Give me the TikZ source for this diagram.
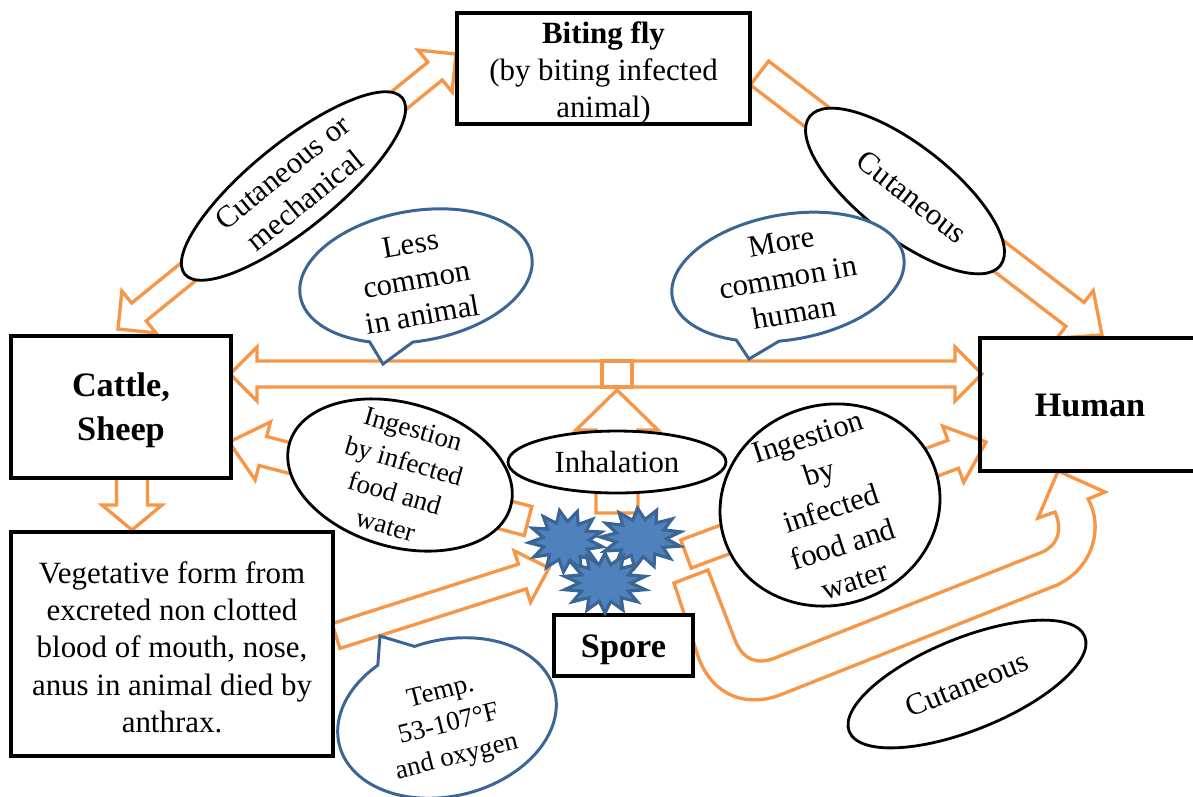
\documentclass[tikz,border=0pt]{standalone}
\usepackage{fontspec}
\setmainfont{Liberation Serif}
\usetikzlibrary{positioning,calc,backgrounds,shapes.geometric,shapes.callouts}
\definecolor{arrow_orange}{HTML}{F79646}
\definecolor{spore_blue}{HTML}{4F81BD}
\definecolor{bubble_blue}{HTML}{3A6595}
\newcommand{\stack}[2][.35em]{\smash{\raisebox{-#1}{\makebox[0pt]{\begin{tabular}{@{}c@{}}#2\end{tabular}}}}}
\tikzstyle{box} = [rectangle, draw=black, line width=2.1pt, fill=white, inner sep=0pt,
font=\fontsize{17.6}{21.2}\selectfont]
\tikzstyle{box_bold} = [box, font=\fontsize{19.5}{25}\bfseries\selectfont]
\tikzstyle{oval} = [ellipse, draw=black, line width=1.6pt, fill=white, inner sep=0pt,
font=\fontsize{17.5}{20.5}\selectfont]
\tikzstyle{bubble} = [ellipse callout, draw=bubble_blue, line width=1.7pt, fill=white, inner sep=0pt,
callout pointer arc=22, font=\fontsize{17.5}{20.5}\selectfont]
\tikzstyle{spore_star} = [star, star point ratio=1.6, draw=bubble_blue, line width=1.8pt, fill=spore_blue, inner sep=0pt]
\tikzstyle{arrow_line} = [draw=arrow_orange, line width=1.9pt, fill=white, line join=miter]
\tikzset{
block_arrow/.style n args={3}{arrow_line, to path={
($(\tikztostart)!#1!90:(\tikztotarget)$) --
($($(\tikztotarget)!#3!(\tikztostart)$)!#1!90:(\tikztotarget)$) --
($($(\tikztotarget)!#3!(\tikztostart)$)!#2!90:(\tikztotarget)$) --
(\tikztotarget) --
($($(\tikztotarget)!#3!(\tikztostart)$)!#2!-90:(\tikztotarget)$) --
($($(\tikztotarget)!#3!(\tikztostart)$)!#1!-90:(\tikztotarget)$) --
($(\tikztostart)!#1!-90:(\tikztotarget)$) -- cycle}},
block_arrow_double/.style n args={3}{arrow_line, to path={
(\tikztostart) --
($($(\tikztostart)!#3!(\tikztotarget)$)!#2!-90:(\tikztotarget)$) --
($($(\tikztostart)!#3!(\tikztotarget)$)!#1!-90:(\tikztotarget)$) --
($($(\tikztotarget)!#3!(\tikztostart)$)!#1!-90:(\tikztotarget)$) --
($($(\tikztotarget)!#3!(\tikztostart)$)!#2!-90:(\tikztotarget)$) --
(\tikztotarget) --
($($(\tikztotarget)!#3!(\tikztostart)$)!#2!90:(\tikztotarget)$) --
($($(\tikztotarget)!#3!(\tikztostart)$)!#1!90:(\tikztotarget)$) --
($($(\tikztostart)!#3!(\tikztotarget)$)!#1!90:(\tikztotarget)$) --
($($(\tikztostart)!#3!(\tikztotarget)$)!#2!90:(\tikztotarget)$) -- cycle}}
}
\begin{document}
\begin{tikzpicture}[x=0.02cm,y=-0.02cm]
\useasboundingbox (0,0) rectangle (1193,796);
\clip (0,0) rectangle (1193,796);

% Main boxes
\node (Biting_Fly) [box, minimum width=5.86cm, minimum height=2.22cm] at (603.5,68.5) {\stack[.4em]{\textbf{Biting fly}\\(by biting infected\\animal)}};
\node (Cattle_Sheep) [box_bold, minimum width=4.4cm, minimum height=2.84cm] at (121,407) {\stack{Cattle,\\Sheep}};
\node (Human) [box_bold, fill=none, minimum width=4.4cm, minimum height=2.66cm] at (1090,404.5) {\stack{Human}};
\node (Vegetative_Form) [box, minimum width=6.44cm, minimum height=4.48cm] at (172,644) {\stack[.45em]{Vegetative form from\\excreted non clotted\\blood of mouth, nose,\\anus in animal died by\\anthrax.}};
\node (Spore) [box_bold, minimum width=2.78cm, minimum height=1.22cm] at (623.5,645.5) {\stack{Spore}};

% Spores
\node (Star_A) [spore_star, star points=13, minimum size=1.24cm, xscale=1.2, rotate=10] at (566,541) {};
\node (Star_B) [spore_star, star points=13, minimum size=1.2cm, xscale=1.35, rotate=5] at (641,538) {};
\node (Star_C) [spore_star, star points=14, minimum size=1.2cm, xscale=1.38] at (605,583) {};

% Route labels
\node (Cutaneous_Mechanical) [oval, minimum width=5.6cm, minimum height=1.72cm, rotate=39] at (293.5,186) {\stack{Cutaneous or\\mechanical}};
\node (Cutaneous_Fly) [oval, minimum width=4.84cm, minimum height=1.84cm, rotate=-38] at (905,191) {\stack{\hspace*{.6em}Cutaneous}};
\node (Ingestion_Cattle) [oval, minimum width=4.6cm, minimum height=2.88cm, rotate=-16, font=\fontsize{15.4}{19}\selectfont] at (400,475) {\stack[.4em]{Ingestion\\by infected\\food and\\water}};
\node (Inhalation) [oval, minimum width=4.36cm, minimum height=1.24cm] at (617,462) {\stack{Inhalation}};
\node (Ingestion_Human) [oval, minimum width=4.44cm, minimum height=4cm, rotate=18, font=\fontsize{17.5}{21.5}\selectfont] at (830,505) {\stack[.45em]{Ingestion\\by\\infected\\food and\\water}};
\node (Cutaneous_Spore) [oval, minimum width=5.08cm, minimum height=1.84cm, rotate=22] at (967,684) {\stack{Cutaneous}};

% Speech bubbles
\node (Less_Common) [bubble, minimum width=4.7cm, minimum height=2.6cm, rotate=10, callout absolute pointer={(383,364)}] at (416,276) {\stack[.45em]{Less\\common\\in animal}};
\node (More_Common) [bubble, minimum width=4.7cm, minimum height=2.5cm, rotate=10, callout absolute pointer={(749,359)}] at (788,277) {\stack{More\\common in\\human}};
\node (Temp_Oxygen) [bubble, font=\fontsize{15.4}{19}\selectfont, minimum width=4.44cm, minimum height=3.12cm, rotate=14, callout absolute pointer={(380,636)}] at (447,718) {\stack[.5em]{Temp.\\53-107°F\\and oxygen}};

% Junction on the long arrow
\node (Junction) [rectangle, arrow_line, minimum width=0.6cm, minimum height=0.52cm, inner sep=0pt] at (617,374) {};

% Arrow ends
\coordinate (Fly_Left) at (456,54);
\coordinate (Fly_Right) at (759.5,73);
\coordinate (Cattle_Top) at (118,329);
\coordinate (Human_Top) at (1102,335);
\coordinate (Cattle_Long) at (230,374);
\coordinate (Human_Long) at (982,374);
\coordinate (Cattle_Ingest) at (229,442);
\coordinate (Human_Ingest) at (986,442);
\coordinate (Spore_Ingest_A) at (528,521);
\coordinate (Spore_Ingest_B) at (686,554);
\coordinate (Cattle_Bottom) at (132,478);
\coordinate (Vegetative_Top) at (132,530);
\coordinate (Vegetative_Right) at (336,636);
\coordinate (Spore_In) at (549,568);
\coordinate (Spore_Top) at (617,513);
\coordinate (Junction_Under) at (617,390);
\coordinate (Uturn_Start) at (674,583);
\coordinate (Human_Under) at (1058,471);

\begin{pgfonlayer}{background}
% Connections around the biting fly
\draw [block_arrow_double={0.23cm}{0.54cm}{0.54cm}] (Cattle_Top) to (Fly_Left);
\draw [block_arrow={0.3cm}{0.6cm}{0.68cm}] (Fly_Right) to (Human_Top);

% Long arrow between cattle and human
\draw [block_arrow_double={0.26cm}{0.54cm}{0.54cm}] (Cattle_Long) to (Human_Long);

% Connections from the spores
\draw [block_arrow={0.3cm}{0.6cm}{0.7cm}] (Spore_Ingest_A) to (Cattle_Ingest);
\draw [block_arrow={0.3cm}{0.6cm}{0.7cm}] (Spore_Ingest_B) to (Human_Ingest);
\draw [block_arrow={0.42cm}{0.82cm}{0.8cm}] (Spore_Top) to (Junction_Under);
\draw [block_arrow={0.31cm}{0.6cm}{0.5cm}] (Cattle_Bottom) to (Vegetative_Top);
\draw [block_arrow={0.26cm}{0.54cm}{0.56cm}] (Vegetative_Right) to (Spore_In);

% Curved arrow to human
\draw [arrow_line] (Uturn_Start) -- (708,570) -- (735,640) .. controls (743,660) and (757,665) .. (775,658)
-- (1040,553) .. controls (1058,546) and (1063,530) .. (1055,512) -- (1038,518) -- (Human_Under)
-- (1105,492) -- (1088,499) .. controls (1103,525) and (1095,567) .. (1057,585) -- (780,695)
.. controls (745,708) and (710,695) .. (697,653) -- cycle;
\end{pgfonlayer}

\end{tikzpicture}
\end{document}
